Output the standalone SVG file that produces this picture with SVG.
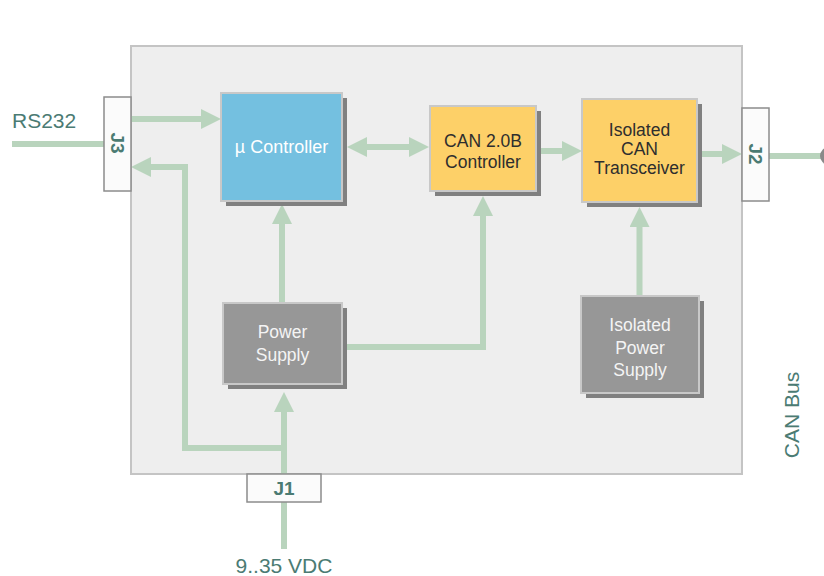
<svg xmlns="http://www.w3.org/2000/svg" width="824" height="576" viewBox="0 0 824 576">
<defs>
<marker id="ah" markerUnits="userSpaceOnUse" markerWidth="20" markerHeight="20" refX="0" refY="10" orient="auto-start-reverse" viewBox="0 0 20 20">
<path d="M0,0 L20,10 L0,20 z" fill="#b9d4bd"/>
</marker>
<style>
.ln{fill:none;stroke:#b9d4bd;stroke-width:6;}
.ar{marker-end:url(#ah);}
.sh{fill:#808080;}
.bx{stroke:#c8c8c8;stroke-width:2;}
.blue{fill:#74c0e0;}
.yel{fill:#fdd068;}
.gry{fill:#979797;}
.t{font-family:"Liberation Sans",Arial,sans-serif;text-anchor:middle;}
.wt{fill:#f4f4f4;font-size:17.5px;}
.dk{fill:#2e2e2e;font-size:17.5px;}
.lbl{font-family:"Liberation Sans",Arial,sans-serif;fill:#4b7b73;font-size:21px;}
.conn{fill:#fbfbfb;stroke:#8c8c8c;stroke-width:1.5;}
.ct{font-family:"Liberation Sans",Arial,sans-serif;font-weight:bold;fill:#4b7b73;font-size:19px;text-anchor:middle;}
</style>
</defs>
<rect width="824" height="576" fill="#ffffff"/>
<rect id="board" x="131" y="46" width="611" height="428" fill="#eeeeee" stroke="#c4c4c4" stroke-width="2"/>

<g id="connectors">
<path class="ln" d="M12,144 L104,144"/>
<path class="ln ar" d="M131,119 L201,119"/>
<path class="ln ar" d="M284,448 L185,448 L185,167 L151,167"/>
<path class="ln ar" d="M284,549 L284,412"/>
<path class="ln ar" d="M282,303 L282,224"/>
<path class="ln ar" d="M342,347 L483,347 L483,216"/>
<path class="ln" d="M367,147 L409,147" marker-start="url(#ah)" marker-end="url(#ah)"/>
<path class="ln ar" d="M536,151 L562,151"/>
<path class="ln ar" d="M697,154 L722,154"/>
<path class="ln ar" d="M639.5,296 L639.5,227"/>
<path class="ln" d="M769,156 L822,156"/>
<circle cx="829" cy="156" r="9" fill="#8a8a8a"/>
</g>

<g id="j3">
<rect class="conn" x="104" y="97" width="27" height="94"/>
<text class="ct" transform="translate(117.5,143) rotate(90)" y="7">J3</text>
</g>
<g id="j2">
<rect class="conn" x="742" y="108" width="27" height="93"/>
<text class="ct" transform="translate(755.5,154) rotate(90)" y="7">J2</text>
</g>
<g id="j1">
<rect class="conn" x="247" y="474" width="74" height="28"/>
<text class="ct" x="284" y="495">J1</text>
</g>

<g id="ucontroller">
<rect class="sh" x="226" y="98" width="121" height="108"/>
<rect class="bx blue" x="221" y="93" width="121" height="108"/>
<text class="t" x="281.5" y="153" fill="#ffffff" font-size="18">µ Controller</text>
</g>

<g id="can-controller">
<rect class="sh" x="435" y="111" width="106" height="85"/>
<rect class="bx yel" x="430" y="106" width="106" height="85"/>
<text class="t dk" x="483" y="147">CAN 2.0B</text>
<text class="t dk" x="483" y="168">Controller</text>
</g>

<g id="can-transceiver">
<rect class="sh" x="587" y="104" width="115" height="103"/>
<rect class="bx yel" x="582" y="99" width="115" height="103"/>
<text class="t dk" x="639.5" y="136">Isolated</text>
<text class="t dk" x="639.5" y="155">CAN</text>
<text class="t dk" x="639.5" y="174">Transceiver</text>
</g>

<g id="power-supply">
<rect class="sh" x="228" y="308" width="119" height="81"/>
<rect class="bx gry" x="223" y="303" width="119" height="81"/>
<text class="t wt" x="282.5" y="338">Power</text>
<text class="t wt" x="282.5" y="361">Supply</text>
</g>

<g id="isolated-power-supply">
<rect class="sh" x="586" y="301" width="118" height="97"/>
<rect class="bx gry" x="581" y="296" width="118" height="97"/>
<text class="t wt" x="640" y="331">Isolated</text>
<text class="t wt" x="640" y="354">Power</text>
<text class="t wt" x="640" y="376">Supply</text>
</g>

<g id="labels">
<text class="lbl" x="12" y="128">RS232</text>
<text class="lbl" x="284" y="573" text-anchor="middle">9..35 VDC</text>
<text class="lbl" transform="translate(799,415) rotate(-90)" text-anchor="middle" font-size="20">CAN Bus</text>
</g>
</svg>
